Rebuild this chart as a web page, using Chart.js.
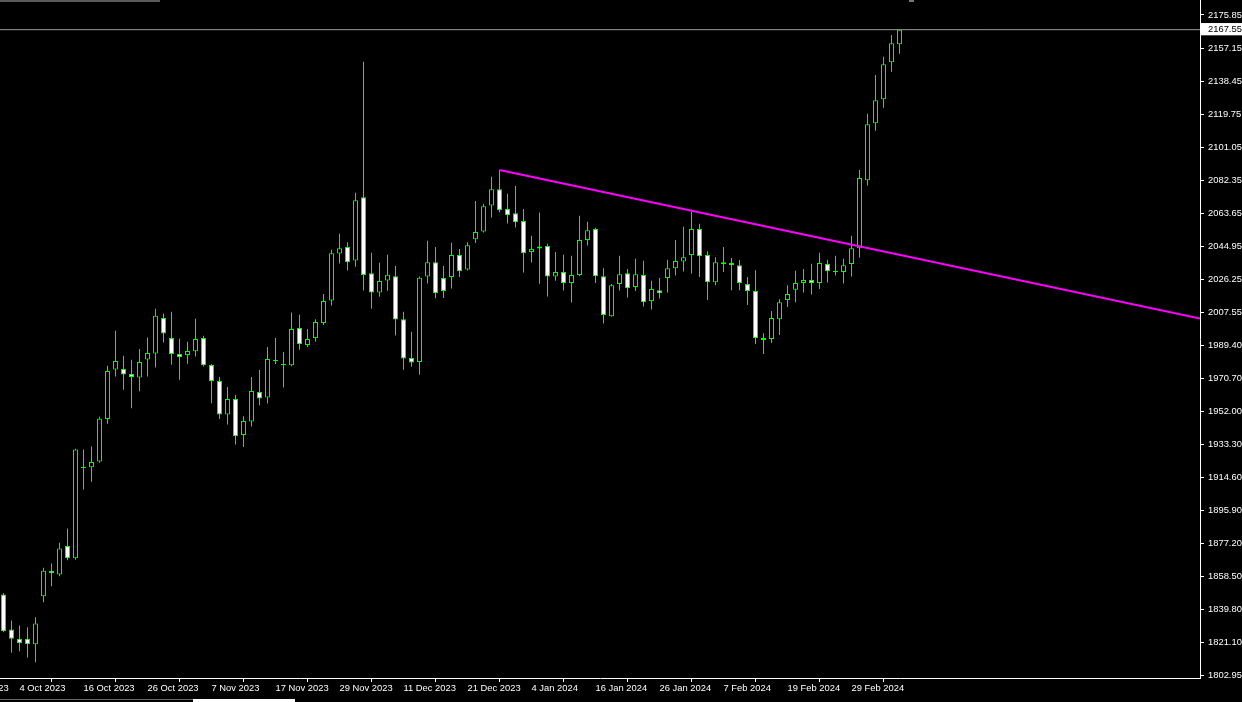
<!DOCTYPE html>
<html lang="en">
<head>
<meta charset="UTF-8" />
<title>XAUUSD Daily</title>
<script src="https://cdn.jsdelivr.net/npm/chart.js@4"></script>
<style>
  html, body { margin: 0; padding: 0; background: #000; overflow: hidden; }
  #wrap { position: relative; width: 1242px; height: 702px; }
  .deco { position: absolute; }
</style>
</head>
<body>
<div id="wrap">
  <canvas id="chart" width="1242" height="702"></canvas>
  <div class="deco" style="left:0;top:0;width:160px;height:2px;background:#5a5a5a"></div>
  <div class="deco" style="left:909px;top:0;width:5px;height:2px;background:#777"></div>
  <div class="deco" style="left:0;top:699px;width:193px;height:1px;background:#6a6a6a"></div>
  <div class="deco" style="left:193px;top:699px;width:102px;height:3px;background:#fff"></div>
</div>
<script>
// daily bars, 2 Oct 2023 .. 8 Mar 2024 (bar index 0 .. 112)
const open = [
  1848.4, 1828.6, 1823.4, 1823.4, 1820.3, 1847.4, 1861.9, 1859.8, 1875.9, 1868.9,
  1920.3, 1920.3, 1923.6, 1947.6, 1975.6, 1975.8, 1973.0, 1971.1, 1981.2, 1984.6,
  2004.6, 1993.3, 1984.3, 1983.7, 1985.8, 1993.3, 1978.1, 1969.0, 1950.2, 1958.9,
  1938.6, 1946.2, 1962.8, 1959.8, 1980.7, 1978.4, 1977.9, 1999.0, 1989.4, 1993.3,
  2001.8, 2014.5, 2041.1, 2044.7, 2037.1, 2072.9, 2030.0, 2019.1, 2025.8, 2028.3,
  2004.0, 1982.0, 1979.8, 2028.1, 2036.2, 2027.2, 2027.8, 2040.2, 2032.1, 2049.2,
  2053.5, 2068.2, 2077.4, 2066.2, 2063.9, 2059.4, 2041.9, 2043.9, 2045.3, 2028.1,
  2030.6, 2024.4, 2028.9, 2048.7, 2054.9, 2028.3, 2005.7, 2023.8, 2030.0, 2022.1,
  2028.9, 2014.2, 2020.4, 2027.2, 2032.7, 2036.6, 2040.2, 2054.9, 2040.2, 2024.9,
  2036.2, 2035.7, 2034.5, 2023.8, 2019.9, 1993.3, 1992.8, 2004.0, 2014.8, 2020.6,
  2024.4, 2026.1, 2024.4, 2035.1, 2030.9, 2030.6, 2035.1, 2044.1, 2082.5, 2114.7,
  2128.3, 2149.1, 2159.3
];
const high = [
  1849.3, 1833.7, 1830.9, 1829.9, 1835.6, 1863.6, 1865.9, 1877.7, 1885.7, 1930.8,
  1930.3, 1932.1, 1948.9, 1977.7, 1997.4, 1983.3, 1981.1, 1987.1, 1993.7, 2009.9,
  2007.0, 2008.2, 1992.9, 1991.2, 2004.2, 1994.6, 1978.7, 1971.3, 1965.7, 1961.1,
  1949.1, 1971.3, 1975.3, 1988.2, 1993.3, 1985.4, 2007.8, 2006.5, 1998.4, 2004.0,
  2018.2, 2043.2, 2052.2, 2047.5, 2075.4, 2149.5, 2041.5, 2035.8, 2040.4, 2034.1,
  2008.2, 1996.9, 2028.1, 2048.3, 2044.8, 2034.1, 2047.1, 2043.7, 2047.5, 2070.8,
  2069.1, 2084.4, 2088.3, 2074.8, 2079.3, 2066.3, 2051.1, 2064.2, 2046.6, 2042.0,
  2040.4, 2039.8, 2062.4, 2059.0, 2055.6, 2032.8, 2023.9, 2039.8, 2032.3, 2038.1,
  2037.0, 2025.7, 2027.2, 2037.5, 2048.7, 2056.2, 2064.6, 2057.9, 2042.4, 2039.0,
  2044.7, 2038.5, 2037.4, 2027.8, 2031.7, 1996.1, 2008.6, 2015.3, 2023.2, 2031.3,
  2032.4, 2035.3, 2041.5, 2037.5, 2039.8, 2038.1, 2051.1, 2088.3, 2120.0, 2142.0,
  2152.3, 2164.6, 2167.8
];
const low = [
  1827.1, 1815.5, 1816.4, 1812.8, 1810.2, 1844.0, 1853.1, 1858.7, 1867.8, 1868.1,
  1907.7, 1912.2, 1922.9, 1944.9, 1971.6, 1964.1, 1953.6, 1963.2, 1971.6, 1976.7,
  1990.8, 1978.2, 1969.8, 1978.8, 1982.9, 1977.3, 1956.5, 1947.6, 1944.5, 1933.2,
  1931.8, 1943.4, 1955.3, 1956.4, 1978.6, 1965.4, 1977.4, 1986.7, 1988.2, 1991.4,
  2000.7, 2011.7, 2035.4, 2031.5, 2033.6, 2020.2, 2009.9, 2016.6, 2020.0, 1994.8,
  1975.4, 1977.1, 1972.6, 2024.1, 2015.8, 2015.9, 2021.3, 2027.8, 2031.5, 2047.0,
  2052.9, 2061.4, 2064.2, 2058.0, 2055.8, 2030.4, 2036.0, 2024.0, 2016.8, 2025.7,
  2020.2, 2013.4, 2028.2, 2045.6, 2024.4, 2001.6, 2005.3, 2020.2, 2016.2, 2019.9,
  2011.2, 2009.5, 2015.7, 2019.1, 2028.7, 2030.9, 2029.8, 2027.8, 2014.8, 2023.2,
  2030.6, 2020.4, 2020.4, 2012.0, 1989.9, 1984.3, 1990.5, 1995.0, 2010.8, 2013.5,
  2019.0, 2018.0, 2021.0, 2024.7, 2028.7, 2024.1, 2028.1, 2038.8, 2079.5, 2110.5,
  2123.5, 2143.8, 2154.0
];
const close = [
  1827.7, 1823.4, 1820.9, 1820.3, 1832.0, 1861.9, 1860.4, 1874.4, 1868.9, 1930.3,
  1920.0, 1923.3, 1947.8, 1974.7, 1980.3, 1972.8, 1971.3, 1979.8, 1984.9, 2005.9,
  1995.9, 1984.3, 1982.6, 1986.0, 1992.8, 1977.9, 1968.9, 1950.2, 1958.9, 1937.8,
  1946.5, 1963.4, 1959.2, 1981.5, 1980.7, 1978.4, 1998.4, 1989.9, 1992.8, 2002.4,
  2014.2, 2041.3, 2044.1, 2036.2, 2071.2, 2028.9, 2019.1, 2025.5, 2029.1, 2003.8,
  1981.8, 1979.5, 2027.4, 2036.2, 2018.6, 2019.9, 2040.2, 2031.1, 2045.8, 2053.2,
  2067.8, 2077.4, 2065.6, 2062.8, 2058.8, 2041.3, 2043.7, 2045.0, 2028.1, 2030.6,
  2024.4, 2028.9, 2048.7, 2054.3, 2028.3, 2006.3, 2023.2, 2029.4, 2021.5, 2029.4,
  2013.6, 2021.0, 2018.7, 2032.8, 2036.8, 2039.0, 2054.9, 2039.6, 2024.9, 2036.2,
  2035.1, 2034.5, 2024.4, 2019.9, 1993.3, 1992.2, 2004.6, 2013.6, 2018.2, 2024.4,
  2026.1, 2024.4, 2035.7, 2031.1, 2030.9, 2034.5, 2044.1, 2083.7, 2114.1, 2127.7,
  2148.0, 2159.9, 2167.55
];

const lastPrice = 2167.55;

// date labels under the chart, with the bar they start at
const tickBars   = [-6, 2, 10, 18, 26, 34, 42, 50, 58, 66, 74, 82, 90, 98, 106];
const tickLabels = ['22 Sep 2023', '4 Oct 2023', '16 Oct 2023', '26 Oct 2023', '7 Nov 2023',
  '17 Nov 2023', '29 Nov 2023', '11 Dec 2023', '21 Dec 2023', '4 Jan 2024', '16 Jan 2024',
  '26 Jan 2024', '7 Feb 2024', '19 Feb 2024', '29 Feb 2024'];

const priceTicks = [2175.85, 2167.55, 2157.15, 2138.45, 2119.75, 2101.05, 2082.35, 2063.65,
  2044.95, 2026.25, 2007.55, 1989.40, 1970.70, 1952.00, 1933.30, 1914.60, 1895.90,
  1877.20, 1858.50, 1839.80, 1821.10, 1802.95];

// trend line drawn from the 28 Dec high down to the right edge
const trendX = [62, 149.5625];
const trendY = [2088.3, 2004.3];

const GREEN = '#00ff00';
const font = { family: 'Liberation Sans, Arial, sans-serif', size: 9.4 };

const wicks = low.map((l, i) => ({ x: i, y: [l, high[i]] }));
const bodies = open.map((o, i) => {
  const c = close[i];
  if (Math.abs(c - o) < 0.6) {
    const m = (o + c) / 2;
    return { x: i, y: [m - 0.3, m + 0.3] };
  }
  return { x: i, y: [o, c] };
});
const bodyColors = open.map((o, i) => {
  const c = close[i];
  if (c - o >= 0.6) return '#000';
  if (o - c >= 0.6) return '#fff';
  return GREEN;
});

new Chart(document.getElementById('chart'), {
  type: 'bar',
  data: {
    datasets: [
      {
        type: 'line',
        data: [{ x: -0.4375, y: lastPrice }, { x: 149.5625, y: lastPrice }],
        borderColor: '#9a9a9a', borderWidth: 1, pointRadius: 0, order: 3
      },
      {
        data: wicks, backgroundColor: GREEN, borderWidth: 0,
        barThickness: 1, grouped: false, inflateAmount: 0, order: 2
      },
      {
        data: bodies, backgroundColor: bodyColors, borderColor: GREEN, borderWidth: 1,
        borderSkipped: false, barThickness: 5, grouped: false, inflateAmount: 0, order: 1
      },
      {
        type: 'line',
        data: trendX.map((x, i) => ({ x: x, y: trendY[i] })),
        borderColor: '#ff00ff', borderWidth: 2, pointRadius: 0, order: 0
      }
    ]
  },
  options: {
    responsive: false,
    animation: false,
    events: [],
    layout: { padding: 0 },
    plugins: { legend: { display: false }, tooltip: { enabled: false } },
    scales: {
      x: {
        type: 'linear',
        min: -0.4375,
        max: 149.5625,
        offset: false,
        afterFit: s => { s.height = 24; s.paddingLeft = 0; s.paddingRight = 0; },
        afterBuildTicks: s => { s.ticks = tickBars.map(v => ({ value: v })); },
        ticks: {
          autoSkip: false, maxRotation: 0, align: 'start', color: '#fff', font: font, padding: 1,
          callback: (v, i) => tickLabels[i]
        },
        grid: { drawOnChartArea: false, tickLength: 4, tickColor: '#fff', color: '#fff' },
        border: { display: true, color: '#fff', width: 1 }
      },
      y: {
        type: 'linear',
        position: 'right',
        min: 1801.26,
        max: 2184.32,
        afterFit: s => { s.width = 42; s.paddingTop = 0; s.paddingBottom = 0; },
        afterBuildTicks: s => { s.ticks = priceTicks.map(v => ({ value: v })); },
        ticks: {
          autoSkip: false, font: font, padding: 4,
          color: c => (c.tick && c.tick.value === lastPrice) ? '#000' : '#fff',
          showLabelBackdrop: c => !!(c.tick && c.tick.value === lastPrice),
          backdropColor: '#fff',
          backdropPadding: { left: 7, right: 3, top: 1, bottom: 0 },
          callback: v => v.toFixed(2)
        },
        grid: {
          drawOnChartArea: false, tickLength: 4, color: '#fff',
          tickColor: c => (c.tick && c.tick.value === lastPrice) ? '#9a9a9a' : '#fff'
        },
        border: { display: true, color: '#fff', width: 1 }
      }
    }
  }
});
</script>
</body>
</html>
